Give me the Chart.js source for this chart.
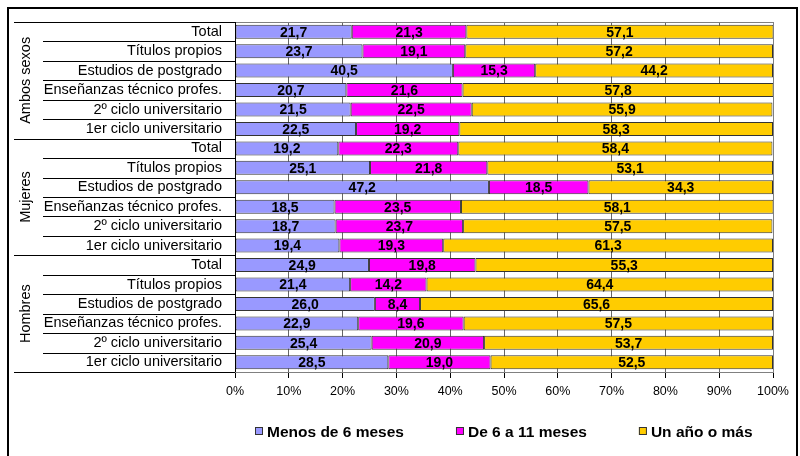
<!DOCTYPE html>
<html>
<head>
<meta charset="utf-8">
<script src="https://cdn.jsdelivr.net/npm/chart.js@4/dist/chart.umd.min.js"></script>
<style>
  body { margin: 0; background: #fff; }
  #wrap { width: 800px; height: 456px; }
</style>
</head>
<body>
<div id="wrap"><canvas id="myChart" width="800" height="456"></canvas></div>
<script>
const groups = ['Ambos sexos', 'Mujeres', 'Hombres'];
const levels = ['Total', 'Títulos propios', 'Estudios de postgrado', 'Enseñanzas técnico profes.', '2º ciclo universitario', '1er ciclo universitario'];
const seriesNames = ['Menos de 6 meses', 'De 6 a 11 meses', 'Un año o más'];
const colors = ['#9999FF', '#FF00FF', '#FFCC00'];

// por grupo: Ambos sexos, Mujeres, Hombres (6 filas cada uno)
const menos6 = [21.7, 23.7, 40.5, 20.7, 21.5, 22.5, 19.2, 25.1, 47.2, 18.5, 18.7, 19.4, 24.9, 21.4, 26.0, 22.9, 25.4, 28.5];
const de6a11 = [21.3, 19.1, 15.3, 21.6, 22.5, 19.2, 22.3, 21.8, 18.5, 23.5, 23.7, 19.3, 19.8, 14.2, 8.4, 19.6, 20.9, 19.0];
const unAno = [57.1, 57.2, 44.2, 57.8, 55.9, 58.3, 58.4, 53.1, 34.3, 58.1, 57.5, 61.3, 55.3, 64.4, 65.6, 57.5, 53.7, 52.5];
const xTicks = [0, 10, 20, 30, 40, 50, 60, 70, 80, 90, 100];

const labels = [];
groups.forEach(g => levels.forEach(l => labels.push(l)));

const FONT = 'Liberation Sans, Arial, sans-serif';

const extras = {
    id: 'extras',
    afterDatasetsDraw(chart) {
        const ctx = chart.ctx;
        const area = chart.chartArea;
        const y = chart.scales.y;
        const step = (y.getPixelForValue(1) - y.getPixelForValue(0));

        // valores dentro de las barras
        ctx.save();
        ctx.font = 'bold 14px ' + FONT;
        ctx.fillStyle = '#000';
        ctx.textAlign = 'center';
        ctx.textBaseline = 'middle';
        chart.data.datasets.forEach((ds, di) => {
            chart.getDatasetMeta(di).data.forEach((bar, i) => {
                const cx = (bar.x + bar.base) / 2;
                ctx.fillText(ds.data[i].toFixed(1).replace('.', ','), cx, bar.y + 1);
            });
        });
        ctx.restore();

        // borde del área de trazado
        ctx.save();
        ctx.strokeStyle = '#808080';
        ctx.lineWidth = 1;
        ctx.strokeRect(area.left + 0.5, area.top + 0.5, area.right - area.left, area.bottom - area.top);
        ctx.restore();

        // separadores y etiquetas de grupo
        ctx.save();
        ctx.strokeStyle = '#000';
        ctx.lineWidth = 1;
        for (let i = 0; i <= labels.length; i++) {
            const py = Math.round(y.getPixelForValue(0) - step / 2 + i * step) + 0.5;
            const x0 = (i % levels.length === 0) ? 14 : 43;
            ctx.beginPath();
            ctx.moveTo(x0, py);
            ctx.lineTo(area.left, py);
            ctx.stroke();
        }
        ctx.beginPath();
        ctx.moveTo(area.left + 0.5, area.top);
        ctx.lineTo(area.left + 0.5, area.bottom);
        ctx.stroke();

        ctx.font = '14.5px ' + FONT;
        ctx.fillStyle = '#000';
        ctx.textAlign = 'center';
        ctx.textBaseline = 'middle';
        groups.forEach((g, gi) => {
            const top = y.getPixelForValue(gi * levels.length) - step / 2;
            const cy = top + step * levels.length / 2;
            ctx.save();
            ctx.translate(26, cy);
            ctx.rotate(-Math.PI / 2);
            ctx.fillText(g, 0, 0);
            ctx.restore();
        });
        ctx.restore();

        // leyenda
        ctx.save();
        ctx.font = 'bold 15.5px ' + FONT;
        ctx.textBaseline = 'middle';
        ctx.textAlign = 'left';
        const box = 8, gapBox = 4, gapItem = 52;
        const widths = seriesNames.map(n => box + gapBox + ctx.measureText(n).width);
        const total = widths.reduce((a, b) => a + b, 0) + gapItem * (widths.length - 1);
        let lx = Math.round((area.left + area.right) / 2 - total / 2);
        const ly = 432;
        seriesNames.forEach((n, i) => {
            ctx.fillStyle = colors[i];
            ctx.fillRect(lx, ly - 5, box, box);
            ctx.strokeStyle = '#333';
            ctx.strokeRect(lx + 0.5, ly - 4.5, box - 1, box - 1);
            ctx.fillStyle = '#000';
            ctx.fillText(n, lx + box + gapBox, ly + 1);
            lx += widths[i] + gapItem;
        });
        ctx.restore();

        // marco exterior
        ctx.save();
        ctx.strokeStyle = '#000';
        ctx.lineWidth = 2;
        ctx.strokeRect(8, 8, 789, 460);
        ctx.restore();
    }
};

const ctx = document.getElementById('myChart').getContext('2d');
new Chart(ctx, {
    type: 'bar',
    data: {
        labels: labels,
        datasets: [menos6, de6a11, unAno].map((d, i) => ({
            label: seriesNames[i],
            data: d,
            backgroundColor: colors[i],
            borderColor: '#333333',
            borderWidth: 1,
            borderSkipped: false,
            categoryPercentage: 1,
            barPercentage: 0.72
        }))
    },
    options: {
        indexAxis: 'y',
        responsive: false,
        animation: false,
        layout: { padding: { top: 22, right: 27, left: 0, bottom: 56 } },
        plugins: {
            legend: { display: false },
            tooltip: { enabled: false }
        },
        scales: {
            x: {
                stacked: true,
                min: 0,
                max: 100,
                afterBuildTicks: scale => { scale.ticks = xTicks.map(v => ({ value: v })); },
                afterFit: scale => { scale.height = 28; },
                ticks: {
                    callback: v => v + '%',
                    color: '#000',
                    font: { family: FONT, size: 12.5 },
                    padding: 6,
                    maxRotation: 0
                },
                grid: { color: '#666', tickLength: 6, tickColor: '#000' },
                border: { color: '#000' }
            },
            y: {
                stacked: true,
                afterFit: scale => { scale.width = 235; },
                ticks: {
                    color: '#000',
                    font: { family: FONT, size: 14.5 },
                    padding: 13,
                    autoSkip: false
                },
                grid: { display: false, drawTicks: false },
                border: { display: false }
            }
        }
    },
    plugins: [extras]
});
</script>
</body>
</html>
